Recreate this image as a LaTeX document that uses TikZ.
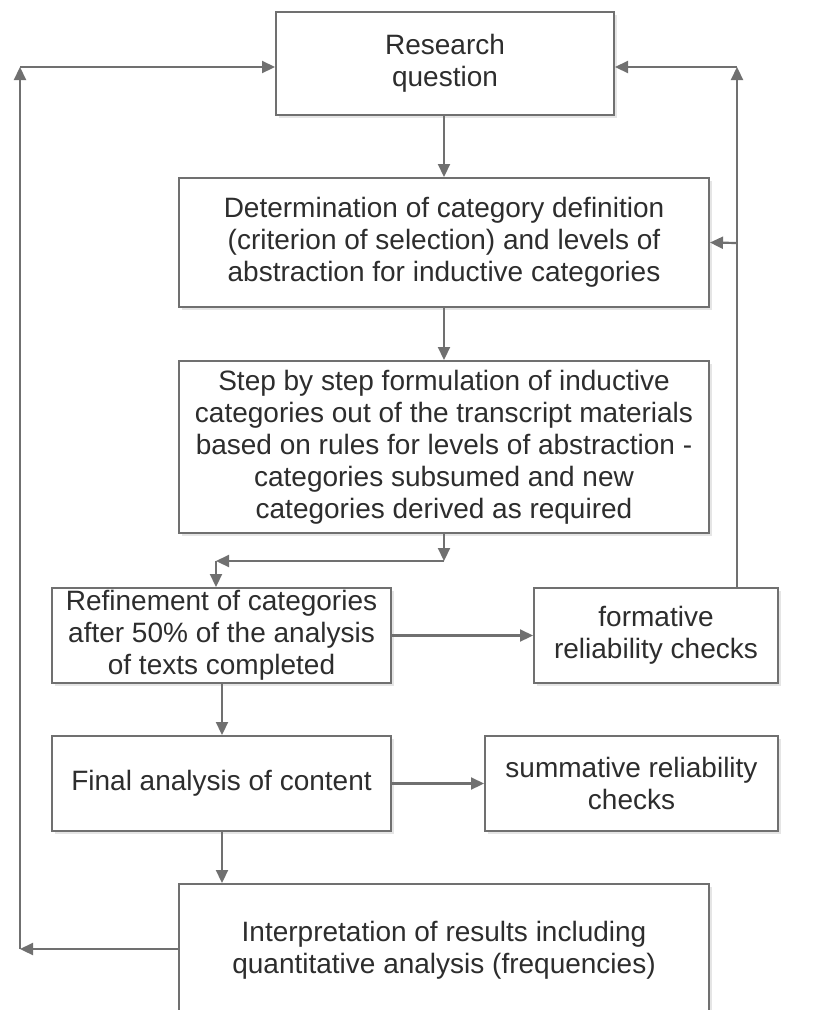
\documentclass[tikz,border=0pt]{standalone}
\usepackage{fontspec}
\setmainfont{Liberation Sans}
\usetikzlibrary{arrows.meta,shadows}
\definecolor{linegray}{RGB}{112,112,112}
\definecolor{txtgray}{RGB}{45,45,45}
\tikzset{
  procbox/.style={draw=linegray, line width=2pt, fill=white, inner sep=0pt,
    align=center, text=txtgray, font=\fontsize{28}{32}\selectfont,
    drop shadow={shadow xshift=3pt, shadow yshift=-3pt, fill=black!10, opacity=1}},
  arr/.style={draw=linegray, line width=2.2pt,
    -{Triangle[length=13pt,width=12pt]}},
  ln/.style={draw=linegray, line width=2.2pt}
}
\begin{document}
\begin{tikzpicture}[x=1pt,y=-1pt]
\useasboundingbox (0,0) rectangle (817,1010);
\node[procbox, minimum width=338pt, minimum height=103pt] (rq) at (445,63.5) {Research\\question};
\node[procbox, minimum width=530pt, minimum height=129pt] (det) at (444,242.5) {Determination of category definition\\(criterion of selection) and levels of\\abstraction for inductive categories};
\node[procbox, minimum width=530pt, minimum height=172pt] (step) at (444,447) {Step by step formulation of inductive\\categories out of the transcript materials\\based on rules for levels of abstraction -\\categories subsumed and new\\categories derived as required};
\node[procbox, minimum width=339pt, minimum height=95pt] (ref) at (221.5,635.5) {Refinement of categories\\after 50\% of the analysis\\of texts completed};
\node[procbox, minimum width=244pt, minimum height=95pt] (form) at (656,635.5) {formative\\reliability checks};
\node[procbox, minimum width=339pt, minimum height=95pt] (fin) at (221.5,783.5) {Final analysis of content};
\node[procbox, minimum width=293pt, minimum height=95pt] (sum) at (631.5,783.5) {summative reliability\\checks};
\node[procbox, minimum width=530pt, minimum height=132pt] (interp) at (444,950) {Interpretation of results including\\quantitative analysis (frequencies)};

\coordinate (c1) at (444,561);
\coordinate (c2) at (216,561);
\coordinate (c3) at (737,67);
\coordinate (c4) at (737,243);
\coordinate (c5) at (20,949);
\coordinate (c6) at (20,67);
\coordinate (c7) at (222,0);

% main chain
\draw[arr] (rq.south -| det.north) -- (det.north);
\draw[arr] (det.south) -- (step.north);
\draw[arr] (step.south) -- (c1);
\draw[arr] (c1) -- (c2);
\draw[arr] (c2) -- (c2 |- ref.north);
\draw[arr] (ref.east) -- (form.west);
\draw[arr] (ref.south -| c7) -- (fin.north -| c7);
\draw[arr] (fin.east) -- (sum.west);
\draw[arr] (fin.south -| c7) -- (interp.north -| c7);

% right feedback
\draw[arr] (form.north -| c3) -- (c3);
\draw[arr] (c3) -- (c3 -| rq.east);
\draw[arr] (c4) -- (det.east);

% left feedback
\draw[arr] (interp.west |- c5) -- (c5);
\draw[arr] (c5) -- (c6);
\draw[arr] (c6) -- (c6 -| rq.west);
\end{tikzpicture}
\end{document}
